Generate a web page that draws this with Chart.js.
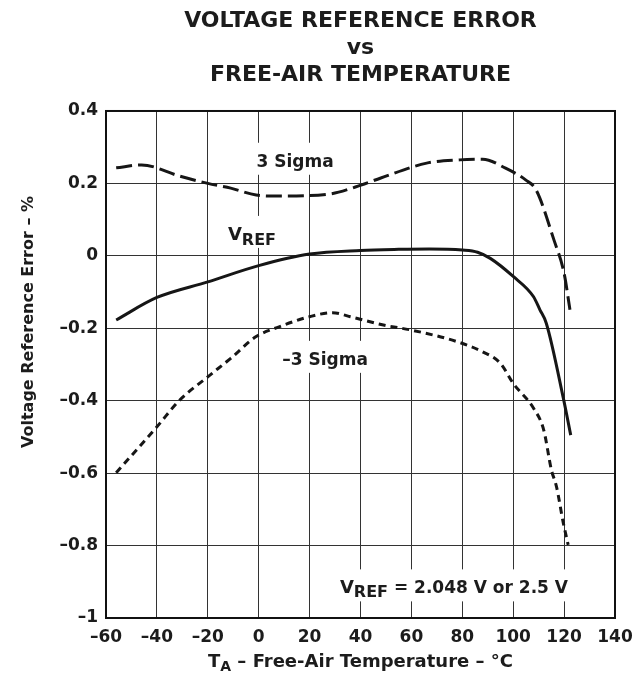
<!DOCTYPE html>
<html>
<head>
<meta charset="utf-8">
<script src="https://cdn.jsdelivr.net/npm/chart.js@4.4.1/dist/chart.umd.min.js"></script>
<style>
  html, body { margin: 0; padding: 0; background: #fff; }
</style>
</head>
<body>
<canvas id="grafico" width="637" height="678"></canvas>
<script>
// Dados (temperatura em °C, erro em %)
const tempSigmaMais = [-56, -46, -31, -20, -11, -1, 8, 28, 38, 48, 66, 79, 88, 97, 105, 109, 116, 120, 122.3];
const erroSigmaMais = [0.243, 0.251, 0.220, 0.200, 0.187, 0.168, 0.165, 0.171, 0.190, 0.215, 0.256, 0.265, 0.267, 0.242, 0.209, 0.182, 0.044, -0.048, -0.149];

const tempVref = [-56, -40, -20, 0, 20, 40, 55, 67, 80, 86, 91, 100, 108, 110.5, 113, 119.7, 122.6];
const erroVref = [-0.177, -0.115, -0.072, -0.027, 0.005, 0.015, 0.018, 0.019, 0.016, 0.010, -0.007, -0.057, -0.113, -0.149, -0.186, -0.393, -0.495];

const tempSigmaMenos = [-56, -40, -31, -20, -11, -1, 8, 20, 29, 36, 49, 60, 78, 88, 95, 100, 108, 112, 115, 117, 119.7, 121.6];
const erroSigmaMenos = [-0.599, -0.472, -0.398, -0.334, -0.283, -0.223, -0.196, -0.168, -0.157, -0.168, -0.191, -0.205, -0.237, -0.265, -0.297, -0.352, -0.421, -0.481, -0.591, -0.637, -0.738, -0.798];

// Eixos
const ticksX = [-60, -40, -20, 0, 20, 40, 60, 80, 100, 120, 140];
const ticksY = [0.4, 0.2, 0, -0.2, -0.4, -0.6, -0.8, -1];
const tituloLinhas = ['VOLTAGE REFERENCE ERROR', 'vs', 'FREE-AIR TEMPERATURE'];

const fonte = "'DejaVu Sans', sans-serif";
const corTexto = '#1c1c1c';
const corLinha = '#161616';
const corGrade = '#333333';

// Rótulos dentro da área do gráfico (posição em unidades dos eixos)
const rotulos = [
    { partes: [{ t: '3 Sigma', tam: 17 }], x: 14.3, y: 0.246, alinhar: 'center' },
    { partes: [{ t: 'V', tam: 18 }, { t: 'REF', tam: 16, dy: 5 }], x: -12.1, y: 0.044, alinhar: 'left' },
    { partes: [{ t: '–3 Sigma', tam: 17 }], x: 26.1, y: -0.301, alinhar: 'center' },
    { partes: [{ t: 'V', tam: 18 }, { t: 'REF', tam: 16, dy: 4 }, { t: ' = 2.048 V or 2.5 V', tam: 17 }], x: 31.9, y: -0.932, alinhar: 'left' }
];

function pares(xs, ys) {
    return xs.map((x, i) => ({ x: x, y: ys[i] }));
}

function formatarNumero(v) {
    return v < 0 ? '–' + String(Math.abs(v)) : String(v);
}

// Desenha texto com subscrito (partes com tamanhos diferentes)
function desenharTextoRico(c, partes, x, base, alinhar, fundo) {
    let larguras = partes.map(p => {
        c.font = 'bold ' + p.tam + 'px ' + fonte;
        return c.measureText(p.t).width;
    });
    const total = larguras.reduce((a, b) => a + b, 0);
    let x0 = alinhar === 'center' ? x - total / 2 : x;
    if (fundo) {
        c.fillStyle = '#fff';
        c.fillRect(x0 - 6, base - 24, total + 12, 32);
    }
    c.fillStyle = corTexto;
    c.textAlign = 'left';
    c.textBaseline = 'alphabetic';
    partes.forEach((p, i) => {
        c.font = 'bold ' + p.tam + 'px ' + fonte;
        c.fillText(p.t, x0, base + (p.dy || 0));
        x0 += larguras[i];
    });
}

const moldura = {
    id: 'moldura',
    afterDraw(chart) {
        const c = chart.ctx;
        const area = chart.chartArea;
        const sx = chart.scales.x;
        const sy = chart.scales.y;
        c.save();

        // rótulos com fundo branco (cortam a grade)
        rotulos.forEach(r => {
            desenharTextoRico(c, r.partes, sx.getPixelForValue(r.x), sy.getPixelForValue(r.y), r.alinhar, true);
        });

        // moldura
        c.strokeStyle = '#111';
        c.lineWidth = 2;
        c.strokeRect(area.left, area.top, area.right - area.left, area.bottom - area.top);

        // título do eixo Y
        c.save();
        c.translate(29, area.top + 211);
        c.rotate(-Math.PI / 2);
        c.fillStyle = corTexto;
        c.font = 'bold 16px ' + fonte;
        c.textAlign = 'center';
        c.textBaseline = 'middle';
        c.fillText('Voltage Reference Error – %', 0, 0);
        c.restore();

        // título do eixo X
        desenharTextoRico(c, [
            { t: 'T', tam: 18 },
            { t: 'A', tam: 14, dy: 4 },
            { t: ' – Free-Air Temperature – °C', tam: 18 }
        ], (area.left + area.right) / 2, area.bottom + 49, 'center', false);

        c.restore();
    }
};

const ctx = document.getElementById('grafico').getContext('2d');

const chart = new Chart(ctx, {
    type: 'line',
    data: {
        datasets: [
            { label: '3 Sigma', data: pares(tempSigmaMais, erroSigmaMais), borderDash: [16, 6] },
            { label: 'VREF', data: pares(tempVref, erroVref) },
            { label: '-3 Sigma', data: pares(tempSigmaMenos, erroSigmaMenos), borderDash: [7, 5] }
        ]
    },
    options: {
        responsive: false,
        animation: false,
        devicePixelRatio: 1,
        layout: { padding: { left: 0, right: 22, top: 0, bottom: 0 } },
        elements: {
            point: { radius: 0 },
            line: {
                borderColor: corLinha,
                borderWidth: 3,
                cubicInterpolationMode: 'monotone',
                fill: false
            }
        },
        plugins: {
            legend: { display: false },
            tooltip: { enabled: false },
            title: {
                display: true,
                fullSize: false,
                text: tituloLinhas,
                color: corTexto,
                font: { family: fonte, size: 22, weight: 'bold', lineHeight: 1.227 },
                padding: { top: 8, bottom: 22 }
            }
        },
        scales: {
            x: {
                type: 'linear',
                min: -60,
                max: 140,
                afterBuildTicks: s => { s.ticks = ticksX.map(v => ({ value: v })); },
                afterFit: s => {
                    s.height = 60;
                    // o rótulo "140" não deve encolher a área do gráfico
                    s.paddingLeft = 0;
                    s.paddingRight = 0;
                },
                grid: { color: corGrade, lineWidth: 1, drawTicks: false },
                border: { display: false },
                ticks: {
                    color: corTexto,
                    font: { family: fonte, size: 17, weight: 'bold' },
                    padding: 9,
                    maxRotation: 0,
                    autoSkip: false,
                    callback: v => formatarNumero(v)
                }
            },
            y: {
                type: 'linear',
                min: -1,
                max: 0.4,
                afterBuildTicks: s => { s.ticks = ticksY.map(v => ({ value: v })); },
                afterFit: s => { s.width = 106; },
                grid: { color: corGrade, lineWidth: 1, drawTicks: false },
                border: { display: false },
                ticks: {
                    color: corTexto,
                    font: { family: fonte, size: 17, weight: 'bold' },
                    padding: 8,
                    autoSkip: false,
                    callback: v => formatarNumero(v)
                }
            }
        }
    },
    plugins: [moldura]
});
</script>
</body>
</html>
